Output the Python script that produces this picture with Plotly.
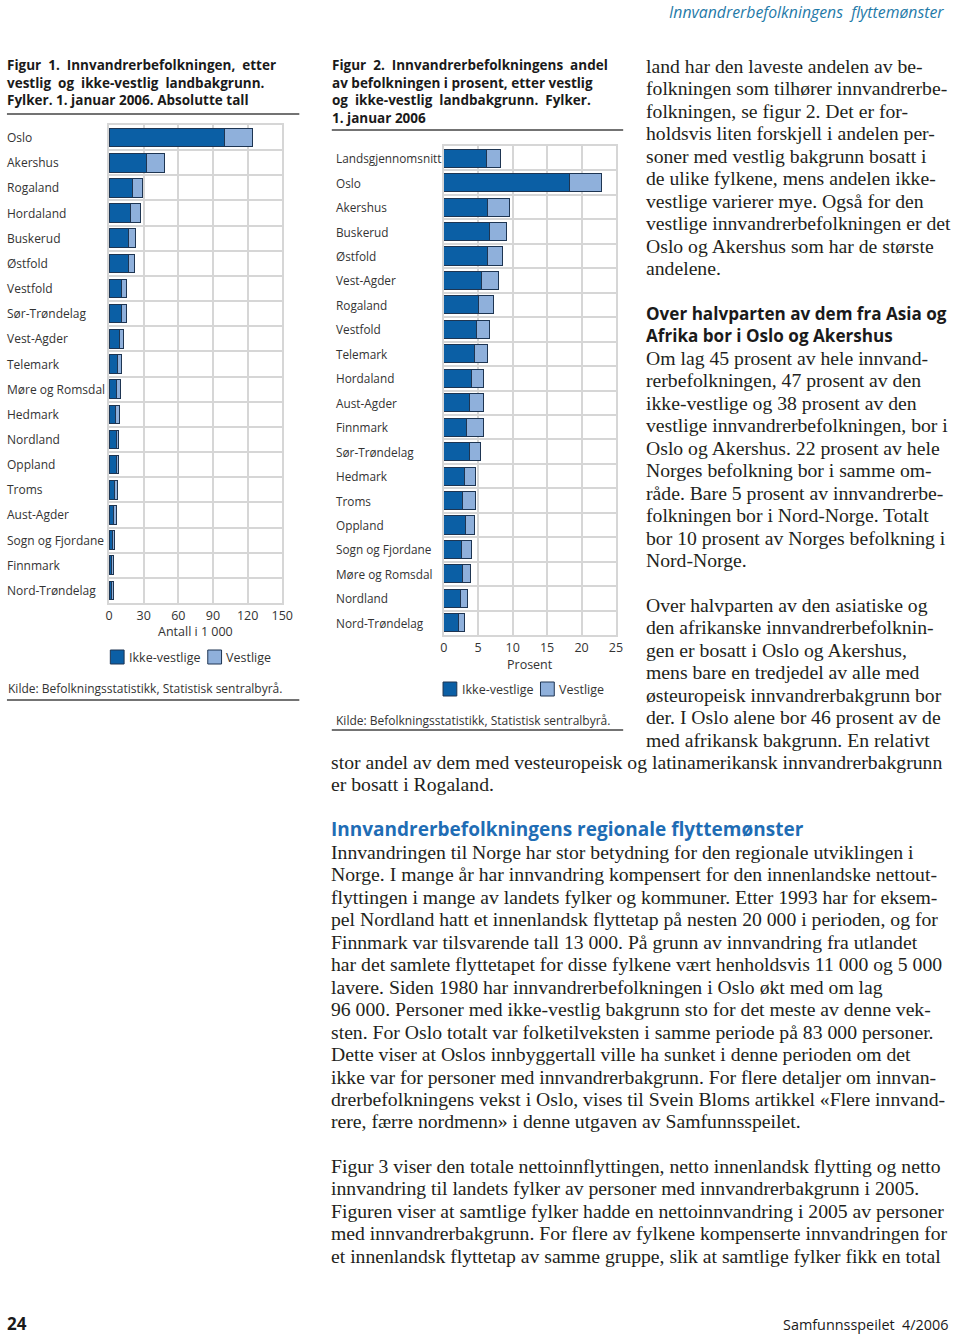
import plotly.graph_objects as go

# ---------------- data ----------------
fylker1 = ["Oslo", "Akershus", "Rogaland", "Hordaland", "Buskerud", "Østfold", "Vestfold",
           "Sør-Trøndelag", "Vest-Agder", "Telemark", "Møre og Romsdal", "Hedmark", "Nordland",
           "Oppland", "Troms", "Aust-Agder", "Sogn og Fjordane", "Finnmark", "Nord-Trøndelag"]
ikke_vestlige1 = [100.0, 32.6, 20.7, 18.7, 16.7, 16.7, 10.5, 10.5, 9.0, 7.7, 6.8, 5.7, 6.2,
                  6.3, 4.5, 4.0, 2.8, 2.5, 2.5]
vestlige1 = [24.0, 15.7, 8.5, 8.3, 6.3, 5.5, 4.5, 4.2, 3.8, 3.4, 3.1, 3.1, 2.3,
             2.2, 2.9, 2.2, 2.0, 1.6, 1.2]

fylker2 = ["Landsgjennomsnitt", "Oslo", "Akershus", "Buskerud", "Østfold", "Vest-Agder", "Rogaland",
           "Vestfold", "Telemark", "Hordaland", "Aust-Agder", "Finnmark", "Sør-Trøndelag", "Hedmark",
           "Troms", "Oppland", "Sogn og Fjordane", "Møre og Romsdal", "Nordland", "Nord-Trøndelag"]
ikke_vestlige2 = [6.2, 18.3, 6.4, 6.7, 6.3, 5.5, 5.0, 4.8, 4.5, 4.0, 3.8, 3.3, 3.8, 3.0,
                  2.7, 3.2, 2.6, 2.7, 2.4, 2.1]
vestlige2 = [2.0, 4.6, 3.2, 2.4, 2.2, 2.4, 2.2, 1.9, 1.8, 1.8, 1.9, 2.4, 1.6, 1.6,
             1.9, 1.3, 1.5, 1.2, 1.1, 0.9]

ticks1 = [0, 30, 60, 90, 120, 150]
ticks2 = [0, 5, 10, 15, 20, 25]
series_names = ["Ikke-vestlige", "Vestlige"]

title1 = ["Figur  1.  Innvandrerbefolkningen,  etter",
          "vestlig  og  ikke-vestlig  landbakgrunn.",
          "Fylker. 1. januar 2006. Absolutte tall"]
title2 = ["Figur  2.  Innvandrerbefolkningens  andel",
          "av befolkningen i prosent, etter vestlig",
          "og  ikke-vestlig  landbakgrunn.  Fylker.",
          "1. januar 2006"]
axis_title1 = "Antall i 1 000"
axis_title2 = "Prosent"
kilde = "Kilde: Befolkningsstatistikk, Statistisk sentralbyrå."

para1 = ["land har den laveste andelen av be-",
         "folkningen som tilhører innvandrerbe-",
         "folkningen, se figur 2. Det er for-",
         "holdsvis liten forskjell i andelen per-",
         "soner med vestlig bakgrunn bosatt i",
         "de ulike fylkene, mens andelen ikke-",
         "vestlige varierer mye. Også for den",
         "vestlige innvandrerbefolkningen er det",
         "Oslo og Akershus som har de største",
         "andelene."]
head2 = ["Over halvparten av dem fra Asia og", "Afrika bor i Oslo og Akershus"]
para2 = ["Om lag 45 prosent av hele innvand-",
         "rerbefolkningen, 47 prosent av den",
         "ikke-vestlige og 38 prosent av den",
         "vestlige innvandrerbefolkningen, bor i",
         "Oslo og Akershus. 22 prosent av hele",
         "Norges befolkning bor i samme om-",
         "råde. Bare 5 prosent av innvandrerbe-",
         "folkningen bor i Nord-Norge. Totalt",
         "bor 10 prosent av Norges befolkning i",
         "Nord-Norge."]
para3 = ["Over halvparten av den asiatiske og",
         "den afrikanske innvandrerbefolknin-",
         "gen er bosatt i Oslo og Akershus,",
         "mens bare en tredjedel av alle med",
         "østeuropeisk innvandrerbakgrunn bor",
         "der. I Oslo alene bor 46 prosent av de",
         "med afrikansk bakgrunn. En relativt"]
para3b = ["stor andel av dem med vesteuropeisk og latinamerikansk innvandrerbakgrunn",
          "er bosatt i Rogaland."]
head3 = "Innvandrerbefolkningens regionale flyttemønster"
para4 = ["Innvandringen til Norge har stor betydning for den regionale utviklingen i",
         "Norge. I mange år har innvandring kompensert for den innenlandske nettout-",
         "flyttingen i mange av landets fylker og kommuner. Etter 1993 har for eksem-",
         "pel Nordland hatt et innenlandsk flyttetap på nesten 20 000 i perioden, og for",
         "Finnmark var tilsvarende tall 13 000. På grunn av innvandring fra utlandet",
         "har det samlete flyttetapet for disse fylkene vært henholdsvis 11 000 og 5 000",
         "lavere. Siden 1980 har innvandrerbefolkningen i Oslo økt med om lag",
         "96 000. Personer med ikke-vestlig bakgrunn sto for det meste av denne vek-",
         "sten. For Oslo totalt var folketilveksten i samme periode på 83 000 personer.",
         "Dette viser at Oslos innbyggertall ville ha sunket i denne perioden om det",
         "ikke var for personer med innvandrerbakgrunn. For flere detaljer om innvan-",
         "drerbefolkningens vekst i Oslo, vises til Svein Bloms artikkel «Flere innvand-",
         "rere, færre nordmenn» i denne utgaven av Samfunnsspeilet."]
para5 = ["Figur 3 viser den totale nettoinnflyttingen, netto innenlandsk flytting og netto",
         "innvandring til landets fylker av personer med innvandrerbakgrunn i 2005.",
         "Figuren viser at samtlige fylker hadde en nettoinnvandring i 2005 av personer",
         "med innvandrerbakgrunn. For flere av fylkene kompenserte innvandringen for",
         "et innenlandsk flyttetap av samme gruppe, slik at samtlige fylker fikk en total"]
header = "Innvandrerbefolkningens  flyttemønster"
page_no = "24"
journal = "Samfunnsspeilet  4/2006"

# ---------------- styling ----------------
W, H = 960, 1334
DARK = "#0b5fa5"
LIGHT = "#8fb0db"
EDGE = "#1e3552"
GRID = "#d6d6d6"
TXT = "#333333"
BODY = "#231f20"
SANS = "Open Sans, Noto Sans, sans-serif"
SERIF = "Liberation Serif, DejaVu Serif, serif"
BODY_SIZE = 19.7
LH = 22.45
TITLE_SIZE = 13.5


def px(x):
    return x / W


def py(y):
    return 1 - y / H


annotations = []
shapes = []


def txt(x, y, s, size=12, family=SANS, color=TXT, anchor="left", xref="paper", yref="paper"):
    annotations.append(dict(
        x=px(x) if xref == "paper" else x,
        y=py(y) if yref == "paper" else y,
        xref=xref, yref=yref, text=s, showarrow=False, align="left",
        xanchor=anchor, yanchor="middle", borderpad=0,
        font=dict(family=family, size=size, color=color)))


def hline(x0, x1, y, color="#444444", width=1.3):
    shapes.append(dict(type="line", xref="paper", yref="paper",
                       x0=px(x0), x1=px(x1), y0=py(y), y1=py(y),
                       line=dict(color=color, width=width)))


fig = go.Figure()

# chart 1
fig.add_trace(go.Bar(y=fylker1, x=ikke_vestlige1, orientation="h", name=series_names[0],
                     marker=dict(color=DARK, line=dict(color=EDGE, width=1)),
                     xaxis="x", yaxis="y", showlegend=False))
fig.add_trace(go.Bar(y=fylker1, x=vestlige1, orientation="h", name=series_names[1],
                     marker=dict(color=LIGHT, line=dict(color=EDGE, width=1)),
                     xaxis="x", yaxis="y", showlegend=False))
# chart 2
fig.add_trace(go.Bar(y=fylker2, x=ikke_vestlige2, orientation="h", name=series_names[0],
                     marker=dict(color=DARK, line=dict(color=EDGE, width=1)),
                     xaxis="x2", yaxis="y2", showlegend=False))
fig.add_trace(go.Bar(y=fylker2, x=vestlige2, orientation="h", name=series_names[1],
                     marker=dict(color=LIGHT, line=dict(color=EDGE, width=1)),
                     xaxis="x2", yaxis="y2", showlegend=False))

# plot areas (pixels)
P1 = dict(x0=106.7, x1=282.7, y0=125, y1=603)
P2 = dict(x0=446.7, x1=621.7, y0=146, y1=635)

common_x = dict(showgrid=True, gridcolor=GRID, gridwidth=2, zeroline=False,
                showline=True, linecolor=GRID, linewidth=2, mirror=True, ticks="",
                tickfont=dict(family=SANS, size=12.5, color=TXT), fixedrange=True)
common_y = dict(type="category", autorange="reversed", tickson="boundaries",
                showgrid=True, gridcolor=GRID, gridwidth=2, zeroline=False,
                showline=True, linecolor=GRID, linewidth=2, mirror=True, ticks="",
                showticklabels=False, fixedrange=True)

fig.update_layout(
    width=W, height=H,
    margin=dict(l=0, r=0, t=0, b=0),
    paper_bgcolor="white", plot_bgcolor="white",
    barmode="stack", bargap=0.26,
    xaxis=dict(domain=[px(P1["x0"]), px(P1["x1"])], range=[0, 150], tickvals=ticks1,
               anchor="y", **common_x),
    yaxis=dict(domain=[py(P1["y1"]), py(P1["y0"])], categoryarray=fylker1, anchor="x", **common_y),
    xaxis2=dict(domain=[px(P2["x0"]), px(P2["x1"])], range=[0, 25], tickvals=ticks2,
                anchor="y2", **common_x),
    yaxis2=dict(domain=[py(P2["y1"]), py(P2["y0"])], categoryarray=fylker2, anchor="x2", **common_y),
)

# category labels (left aligned)
for f in fylker1:
    txt(2, f, f, size=12, yref="y")
for f in fylker2:
    txt(336, f, f, size=11.8, yref="y2")

# titles of figures (one multi-line block each)
step = TITLE_SIZE * 1.3
txt(2, 65 + (len(title1) - 1) * step / 2, "<b>" + "<br>".join(title1) + "</b>",
    size=TITLE_SIZE, color="#1a1a1a")
txt(332, 65 + (len(title2) - 1) * step / 2, "<b>" + "<br>".join(title2) + "</b>",
    size=TITLE_SIZE, color="#1a1a1a")
hline(3, 300, 114)
hline(333, 629, 130)

# axis titles
txt((P1["x0"] + P1["x1"]) / 2, 632, axis_title1, size=12.5, anchor="center")
txt((P2["x0"] + P2["x1"]) / 2, 664, axis_title2, size=12.5, anchor="center")


# legends
def legend(x_sw1, x_sw2, yc):
    for xs, col, name in [(x_sw1, DARK, series_names[0]), (x_sw2, LIGHT, series_names[1])]:
        shapes.append(dict(type="rect", xref="paper", yref="paper",
                           x0=px(xs), x1=px(xs + 14), y0=py(yc + 7), y1=py(yc - 7),
                           fillcolor=col, line=dict(color=EDGE, width=1)))
        txt(xs + 18, yc, name, size=12.5)


legend(108, 207, 657)
legend(446, 545, 689)

# sources
txt(3, 688, kilde, size=12)
hline(3, 300, 700)
txt(336, 720, kilde, size=12)
hline(333, 629, 730)

# header / footer
txt(675, 12, "<i>" + header + "</i>", size=15.8, color="#1f7aa8")
txt(2, 1323, "<b>" + page_no + "</b>", size=17, color="#1a1a1a")
txt(790, 1324, journal, size=14.4, color="#1a1a1a")

# body text
for i, line in enumerate(para1):
    txt(651, 66 + i * LH, line, size=BODY_SIZE, family=SERIF, color=BODY)
for i, line in enumerate(head2):
    txt(651, 313 + i * LH, "<b>" + line + "</b>", size=17.1, color="#1a1a1a")
for i, line in enumerate(para2):
    txt(651, 358 + i * LH, line, size=BODY_SIZE, family=SERIF, color=BODY)
for i, line in enumerate(para3):
    txt(651, 605 + i * LH, line, size=BODY_SIZE, family=SERIF, color=BODY)
for i, line in enumerate(para3b):
    txt(331, 762 + i * LH, line, size=BODY_SIZE, family=SERIF, color=BODY)
txt(331, 829, "<b>" + head3 + "</b>", size=19, color="#1f6db5")
for i, line in enumerate(para4):
    txt(331, 852 + i * LH, line, size=BODY_SIZE, family=SERIF, color=BODY)
for i, line in enumerate(para5):
    txt(331, 1166 + i * LH, line, size=BODY_SIZE, family=SERIF, color=BODY)

fig.update_layout(annotations=annotations, shapes=shapes)
fig.write_html("out.html",
               config={"displayModeBar": False},
               post_script="document.body.style.margin='0px';document.body.style.overflow='hidden';")
